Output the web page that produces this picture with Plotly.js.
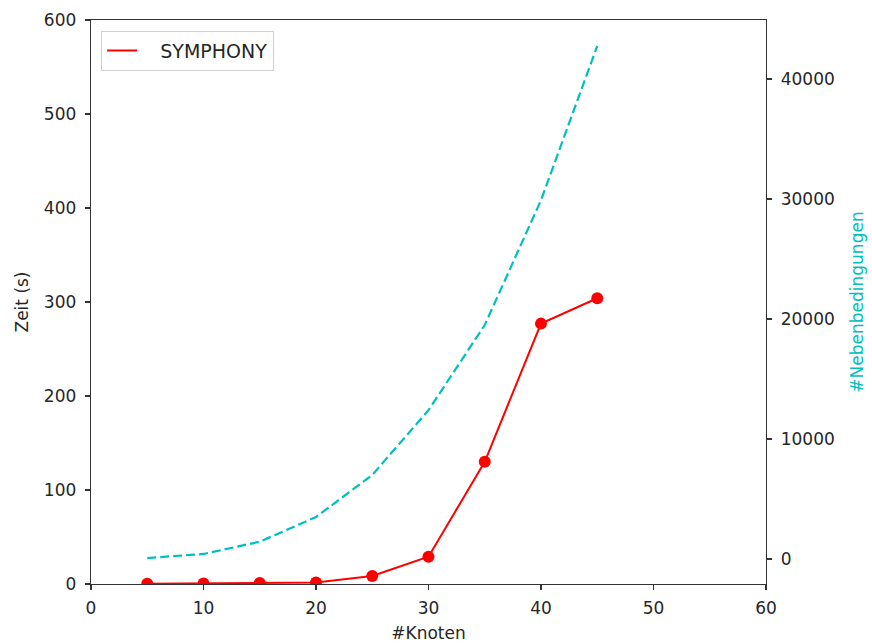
<!DOCTYPE html>
<html>
<head>
<meta charset="utf-8">
<script src="https://cdn.plot.ly/plotly-3.0.1.min.js"></script>
<style>html,body{margin:0;padding:0;background:#fff;}#chart{width:872px;height:644px;}</style>
</head>
<body>
<div id="chart"></div>
<script>
// Data
const knoten = [5, 10, 15, 20, 25, 30, 35, 40, 45];
const zeitSymphony = [0.3, 0.5, 1, 1.5, 8.5, 29, 130, 277, 304];
const nebenbedingungen = [80, 420, 1440, 3500, 7000, 12400, 19500, 29900, 42750];

const xTicks = [0, 10, 20, 30, 40, 50, 60];
const yTicks = [0, 100, 200, 300, 400, 500, 600];
const y2Ticks = [0, 10000, 20000, 30000, 40000];

const red = '#ff0000';
const cyan = '#00bfbf';
const axisColor = '#333333';
const fam = 'DejaVu Sans, sans-serif';
const font = {family: fam, size: 17, color: '#262626'};

const traces = [
  {
    x: knoten, y: zeitSymphony, type: 'scatter', mode: 'lines',
    name: '\u00a0\u00a0\u00a0SYMPHONY', line: {color: red, width: 2}, showlegend: true
  },
  {
    x: knoten, y: zeitSymphony, type: 'scatter', mode: 'markers',
    marker: {color: red, size: 12}, showlegend: false, hoverinfo: 'skip'
  },
  {
    x: knoten, y: nebenbedingungen, type: 'scatter', mode: 'lines',
    yaxis: 'y2', line: {color: cyan, width: 2.2, dash: '9px,4px'},
    showlegend: false
  }
];

const commonAxis = {
  showgrid: false, zeroline: false, showline: true, linecolor: axisColor,
  linewidth: 1.3, ticks: 'outside', ticklen: 5, tickwidth: 1.2,
  tickcolor: axisColor, tickfont: font
};

const layout = {
  width: 872, height: 644,
  margin: {l: 91, r: 106, t: 20, b: 60},
  paper_bgcolor: '#ffffff', plot_bgcolor: '#ffffff',
  font: font,
  showlegend: true,
  legend: {
    x: 0.015, y: 0.981, xanchor: 'left', yanchor: 'top',
    bgcolor: 'rgba(255,255,255,0.8)', bordercolor: '#d0d0d0', borderwidth: 1,
    font: {family: fam, size: 19, color: '#262626'}
  },
  xaxis: Object.assign({}, commonAxis, {
    range: [0, 60], tickvals: xTicks, ticktext: xTicks.map(String),
    mirror: true, ticklabelstandoff: 3,
    title: {text: '#Knoten', font: {family: fam, size: 17, color: '#262626'}, standoff: 10}
  }),
  yaxis: Object.assign({}, commonAxis, {
    range: [0, 600], tickvals: yTicks, ticktext: yTicks.map(String),
    ticklabelstandoff: 5,
    title: {text: 'Zeit (s)', font: {family: fam, size: 17, color: '#262626'}, standoff: 11}
  }),
  yaxis2: Object.assign({}, commonAxis, {
    overlaying: 'y', side: 'right', anchor: 'x',
    range: [-2083, 44917], tickvals: y2Ticks, ticktext: y2Ticks.map(String),
    ticklabelstandoff: 5,
    title: {text: '#Nebenbedingungen', font: {family: fam, size: 17, color: cyan}, standoff: 17}
  })
};

Plotly.newPlot('chart', traces, layout, {displayModeBar: false, staticPlot: true});
</script>
</body>
</html>
